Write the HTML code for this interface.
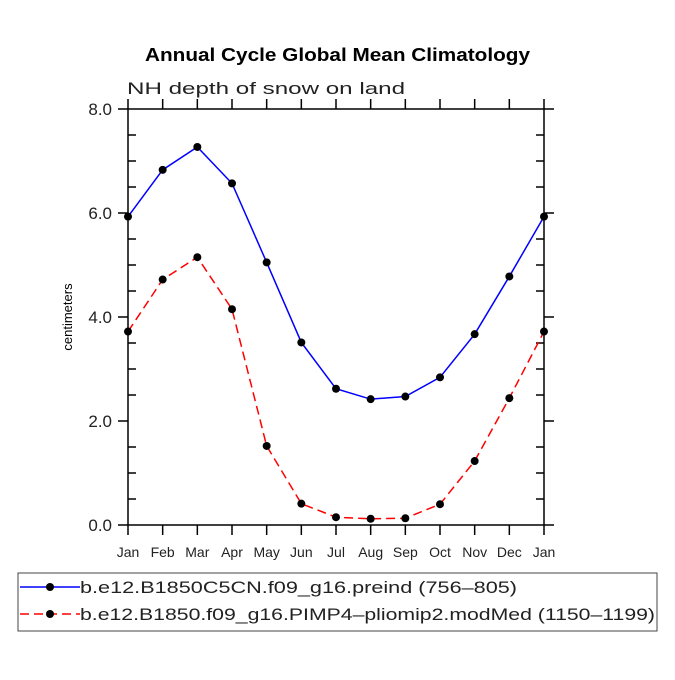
<!DOCTYPE html>
<html><head><meta charset="utf-8"><style>
body{margin:0;background:#fff}
svg text{font-family:"Liberation Sans",sans-serif}
</style></head><body>
<svg id="c" width="675" height="675" xmlns="http://www.w3.org/2000/svg">
<rect width="675" height="675" fill="#fff"/>
<text x="145" y="61" font-size="18" font-weight="bold" textLength="385" lengthAdjust="spacingAndGlyphs">Annual Cycle Global Mean Climatology</text>
<text x="127" y="94" font-size="17" fill="#222" textLength="278" lengthAdjust="spacingAndGlyphs">NH depth of snow on land</text>
<text x="72" y="317" font-size="13" text-anchor="middle" transform="rotate(-90 72 317)">centimeters</text>
<g id="axes"></g><g id="series"></g>
<rect x="18" y="573" width="639" height="58" fill="none" stroke="#444"/>
<line x1="20" y1="587" x2="80" y2="587" stroke="blue" stroke-width="1.5"/>
<circle cx="50" cy="587" r="4"/>
<text x="80" y="593" font-size="17" fill="#222" textLength="437" lengthAdjust="spacingAndGlyphs">b.e12.B1850C5CN.f09_g16.preind (756–805)</text>
<line x1="20" y1="614" x2="80" y2="614" stroke="red" stroke-width="1.5" stroke-dasharray="9,5"/>
<circle cx="50" cy="614" r="4"/>
<text x="80" y="620" font-size="17" fill="#222" textLength="575" lengthAdjust="spacingAndGlyphs">b.e12.B1850.f09_g16.PIMP4–pliomip2.modMed (1150–1199)</text>
</svg>
<script>
const months=["Jan","Feb","Mar","Apr","May","Jun","Jul","Aug","Sep","Oct","Nov","Dec","Jan"];
const preind=[5.93,6.83,7.27,6.57,5.05,3.51,2.62,2.42,2.47,2.84,3.67,4.78,5.93];
const plio=[3.72,4.72,5.15,4.15,1.52,0.41,0.15,0.12,0.13,0.40,1.23,2.44,3.72];
const yTicks=["0.0","2.0","4.0","6.0","8.0"];
const X0=128,X1=544,Y0=525,Y1=109,YMAX=8;
const xs=i=>X0+(X1-X0)*i/(months.length-1);
const ys=v=>Y0-(Y0-Y1)*v/YMAX;
const NS="http://www.w3.org/2000/svg";
function mk(p,t,a){const e=document.createElementNS(NS,t);for(const k in a)e.setAttribute(k,a[k]);p.appendChild(e);return e;}
const ax=document.getElementById('axes');
const fr=mk(ax,'rect',{x:X0,y:Y1,width:X1-X0,height:Y0-Y1,fill:'none',stroke:'#000','stroke-width':1.5});


months.forEach((m,i)=>{
 const x=xs(i);
 const t=mk(ax,'line',{x1:x,y1:Y0,x2:x,y2:Y0+10,stroke:'#000','stroke-width':1.5});
 
 
 const t2=mk(ax,'line',{x1:x,y1:Y1,x2:x,y2:Y1-10,stroke:'#000','stroke-width':1.5});
 
 
 const l=mk(ax,'text',{x:x,y:Y0+32,'font-size':14,'text-anchor':'middle',fill:'#222'});
 l.textContent=m;
 
 
});
for(let v=0;v<=YMAX;v+=0.5){
 const y=ys(v),maj=(v%2===0);
 const a=mk(ax,'line',{x1:maj?X0-10:X0,y1:y,x2:maj?X0:X0+8,y2:y,stroke:'#000','stroke-width':1.5});
 
 
 const b=mk(ax,'line',{x1:maj?X1:X1-8,y1:y,x2:maj?X1+10:X1,y2:y,stroke:'#000','stroke-width':1.5});
 
 
}
yTicks.forEach(s=>{
 const l=mk(ax,'text',{x:X0-16,y:ys(parseFloat(s))+6,'font-size':17,'text-anchor':'end',fill:'#222'});
 l.textContent=s;
 
 
});
const sg=document.getElementById('series');
function draw(vals,col,dash,name){
 const p=mk(sg,'polyline',{points:vals.map((v,i)=>xs(i)+','+ys(v)).join(' '),fill:'none',stroke:col,'stroke-width':1.5,'stroke-dasharray':dash});
 
 
 vals.forEach((v,i)=>{
  const c=mk(sg,'circle',{cx:xs(i),cy:ys(v),r:4,fill:'#000'});
  
  
 });
}
draw(preind,'blue','none','preind');
draw(plio,'red','9,5','plio');
</script>
</body></html>
